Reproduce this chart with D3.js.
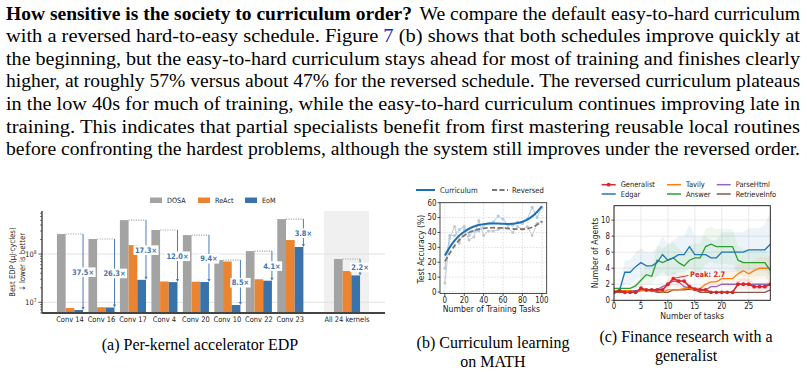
<!DOCTYPE html>
<html><head><meta charset="utf-8">
<script src="https://cdn.jsdelivr.net/npm/d3@7/dist/d3.min.js"></script>
<style>body{margin:0;background:#fff}svg{display:block}</style>
</head><body>
<svg id="c" width="807" height="372"></svg>
<script>
// ---------- paragraph ----------
const paraBold = "How sensitive is the society to curriculum order?";
const paraLines = [
  " We compare the default easy-to-hard curriculum",
  "with a reversed hard-to-easy schedule. Figure |7| (b) shows that both schedules improve quickly at",
  "the beginning, but the easy-to-hard curriculum stays ahead for most of training and finishes clearly",
  "higher, at roughly 57% versus about 47% for the reversed schedule. The reversed curriculum plateaus",
  "in the low 40s for much of training, while the easy-to-hard curriculum continues improving late in",
  "training. This indicates that partial specialists benefit from first mastering reusable local routines",
  "before confronting the hardest problems, although the system still improves under the reversed order."
];
const captions = [
  ["(a) Per-kernel accelerator EDP"],
  ["(b) Curriculum learning", "on MATH"],
  ["(c) Finance research with a", "generalist"]
];

// ---------- chart (a) ----------
const kernels = ["Conv 14","Conv 16","Conv 17","Conv 4","Conv 20","Conv 10","Conv 22","Conv 23","All 24 kernels"];
const dosa  = [2.6e8, 2.05e8, 5.05e8, 3.15e8, 2.47e8, 7.5e7, 1.15e8, 5.3e8, 7.9e7];
const react = [7.6e6, 7.9e6, 1.53e8, 2.7e7, 2.67e7, 7.0e7, 3.0e7, 1.95e8, 4.45e7];
const eom   = [6.93e6, 7.8e6, 2.92e7, 2.62e7, 2.63e7, 8.8e6, 2.8e7, 1.4e8, 3.6e7];
const speedup = ["37.5×","26.3×","17.3×","12.0×","9.4×","8.5×","4.1×","3.8×","2.2×"];
const edpSeries = ["DOSA","ReAct","EoM"];

// ---------- chart (b) ----------
const trainTasks = [0,5,10,15,20,25,30,35,40,45,50,55,60,65,70,75,80,85,90,95,100];
const currRaw = [16,38,38,42,44,38,41,41,45,46,47,51,49,45,45,47,46,49,57,50,57];
const revRaw  = [6,36,44,33,42,35,37,48,38,41,41,42,43,43,40,44,42,44,38,46,47];
const currFit = [24.5,30,34.5,38,40.5,42.5,44,45,45.6,46,46,46,45.8,45.7,45.8,46.3,47.2,48.6,50.8,53.8,57.5];
const revFit  = [20.5,26,31,35,38,40,41.3,42.2,42.8,43.1,43.2,43.1,43,42.7,42.4,42.2,42.2,42.6,43.5,45.2,47.5];
const accTicks = [0,10,20,30,40,50,60];
const taskTicksB = [0,20,40,60,80,100];

// ---------- chart (c) ----------
const tasks = [0,1,2,3,4,5,6,7,8,9,10,11,12,13,14,15,16,17,18,19,20,21,22,23,24,25,26,27,28,29];
const generalist = [1.0,1.2,1.0,1.0,1.0,1.5,1.3,1.3,1.3,1.3,2.0,2.7,2.4,2.4,1.7,1.4,1.3,1.3,1.0,1.0,1.0,1.0,1.0,2.0,2.0,2.0,1.7,1.7,1.7,2.0];
const edgar = [1.0,1.2,3.5,3.5,4.2,4.7,4.3,4.3,4.7,5.7,5.0,5.3,5.7,5.7,6.7,5.7,5.7,5.7,5.3,5.3,6.0,6.0,6.0,6.0,6.0,6.3,6.3,6.3,6.3,7.0];
const tavily = [1.2,1.2,1.2,1.2,1.0,1.3,1.2,1.2,1.2,1.0,1.3,1.3,1.3,1.5,1.5,1.3,1.5,2.0,2.3,2.3,2.7,2.7,2.7,3.3,3.7,3.3,3.7,4.0,4.0,4.0];
const answer = [1.5,1.5,1.5,1.5,1.8,2.5,3.2,3.0,5.0,4.7,5.0,5.3,4.7,4.3,5.0,5.3,5.3,6.7,7.0,6.7,6.7,6.7,6.7,5.0,4.7,4.7,4.7,4.7,4.7,3.7];
const parseHtml = [1.2,1.2,1.2,1.2,1.2,1.3,1.3,1.3,1.3,1.7,2.0,2.4,2.3,1.7,1.5,1.3,1.3,1.3,1.7,1.7,2.0,2.0,2.0,2.0,2.0,2.0,2.0,2.0,2.0,2.0];
const retrieveInfo = [1.0,1.0,1.0,1.0,1.0,1.2,1.2,1.2,1.0,1.0,1.0,1.3,1.3,1.3,1.4,1.3,1.0,1.0,1.0,1.0,1.0,1.0,1.0,1.0,1.0,1.0,1.0,1.0,1.0,1.3];
const edgarLo = [1,1,2,2,2.5,3,2.8,2.8,3,3.5,3,3.2,3.5,3.5,4,3.5,3.5,3.5,3.3,3.3,3.5,3.5,3.5,3.5,3.5,3.7,3.7,3.7,3.7,3];
const edgarHi = [1.2,1.5,5,5,6,6.5,6,6,6.5,8,7,7.5,8,8,9.5,8,8,8,7.5,7.5,8.5,8.5,8.5,8.5,8.5,9,9,9,9.5,11];
const answerLo = [1.5,1.5,1.5,1.5,1.5,1.8,2,2,3,3,3,3.3,3,2.8,3.2,3.5,3.5,4.5,4.8,4.5,4.5,4.5,4.5,3.3,3,3,3,3,3,2];
const answerHi = [1.5,1.5,1.5,1.5,2.1,3.2,4.5,4,7,6.5,7,7.3,6.5,5.8,6.8,7.1,7.1,8.9,9.2,8.9,8.9,8.9,8.9,6.7,6.4,6.4,6.4,6.4,6.4,5.4];
const genLo = [1,1,1,1,1,1.2,1.1,1.1,1.1,1.1,1.4,1.8,1.6,1.6,1.2,1.1,1,1,1,1,1,1,1,1.3,1.3,1.3,1.2,1.2,1.2,1.3];
const genHi = [1,1.4,1,1,1,1.8,1.5,1.5,1.5,1.5,2.6,3.6,3.1,3.1,2.2,1.7,1.6,1.6,1,1,1,1,1,2.7,2.7,2.7,2.2,2.2,2.2,2.7];
const tavLo = [1,1,1,1,0.9,1.1,1,1,1,0.9,1.1,1.1,1.1,1.2,1.2,1.1,1.2,1.3,1.5,1.5,1.7,1.7,1.7,2.1,2.4,2.1,2.4,2.6,2.6,2.6];
const tavHi = [1.4,1.4,1.4,1.4,1.1,1.5,1.4,1.4,1.4,1.1,1.5,1.5,1.5,1.8,1.8,1.5,1.8,2.7,3.1,3.1,3.7,3.7,3.7,4.5,5,4.5,5,5.4,5.4,5.4];
const agentTicks = [0,2,4,6,8,10];
const taskTicksC = [0,5,10,15,20,25];
const peakLabel = "Peak: 2.7";

const svg = d3.select("#c");
const SERIF = "'Liberation Serif','Times New Roman',serif";
const SANS = "'DejaVu Sans',sans-serif";
const SQUEEZE = 0.88;

// ---- paragraph ----
const pg = svg.append("g").attr("font-family", SERIF).attr("font-size", 18).attr("fill", "#000");
const base0 = 19.5, lh = 22.6, left = 6, right = 800;
pg.append("text").attr("x", left).attr("y", base0).attr("font-weight", "bold")
  .attr("textLength", 406).attr("lengthAdjust", "spacingAndGlyphs").text(paraBold);
paraLines.forEach((ln, i) => {
  const x0 = i === 0 ? 415 : left;
  const t = pg.append("text").attr("x", x0).attr("y", base0 + lh * i)
    .attr("textLength", right - x0).attr("lengthAdjust", "spacingAndGlyphs")
    .style("white-space", "pre");
  ln.split("|").forEach((part, k) => {
    t.append("tspan").attr("fill", k === 1 ? "#2020d0" : "#000").text(part);
  });
});

// ---- captions ----
const capX = [200, 493, 686];
const capY = [[349.5], [347.5, 366.5], [342, 361]];
captions.forEach((c, i) => c.forEach((s, j) =>
  svg.append("text").attr("x", capX[i]).attr("y", capY[i][j]).attr("text-anchor", "middle")
    .attr("font-family", SERIF).attr("font-size", 16).text(s)));

// ================= chart (a) =================
(function () {
  const g = svg.append("g").attr("class", "ct").attr("font-family", SANS);
  const colors = { DOSA: "#a3a3a3", ReAct: "#eb8431", EoM: "#3a72aa" };
  const xL = 42, xR = 385, yT = 211, yB = 313;
  const pos = kernels.map((k, i) => i < 8 ? i : 8.8);
  const x = d3.scaleLinear().domain([0, 8.8]).range([70, 347]);
  const y = d3.scaleLog().domain([6.0e6, 7.8e8]).range([yB, yT]);
  const bw = 8.7;
  g.append("rect").attr("x", x(8.8) - 23).attr("y", yT).attr("width", 45).attr("height", yB - yT).attr("fill", "#f0f0f0");
  [1e7, 1e8].forEach(v => g.append("line").attr("x1", xL).attr("x2", xR).attr("y1", y(v)).attr("y2", y(v))
    .attr("stroke", "#e2e2e2").attr("stroke-width", 1));
  const vals = [dosa, react, eom];
  edpSeries.forEach((s, si) => {
    g.selectAll(null).data(kernels).enter().append("rect")
      .attr("x", (d, i) => x(pos[i]) + (si - 1.5) * bw)
      .attr("width", bw)
      .attr("y", (d, i) => y(vals[si][i]))
      .attr("height", (d, i) => yB - y(vals[si][i]))
      .attr("fill", colors[s]);
  });
  kernels.forEach((k, i) => {
    const cx = x(pos[i]);
    const xr = cx + 1.5 * bw;
    const yt = y(dosa[i]), yb = y(eom[i]);
    g.append("line").attr("x1", cx - 0.5 * bw).attr("x2", xr).attr("y1", yt).attr("y2", yt)
      .attr("stroke", "#aaaaaa").attr("stroke-width", 1.2).attr("stroke-dasharray", "1.2,1.2");
    g.append("line").attr("x1", xr).attr("x2", xr).attr("y1", yt).attr("y2", yb - 1.5)
      .attr("stroke", "#4a7db5").attr("stroke-width", 1);
    g.append("path").attr("d", `M${xr - 1.6},${yb - 3}L${xr + 1.6},${yb - 3}L${xr},${yb}Z`).attr("fill", "#4a7db5");
    const ym = Math.sqrt(dosa[i] * eom[i]);
    g.append("text").attr("class", "boxed").attr("x", xr).attr("y", y(ym) + 2.7).attr("text-anchor", "middle")
      .attr("font-size", 7.6).attr("font-weight", "bold").attr("fill", "#3f74ad").text(speedup[i]);
  });
  g.append("line").attr("x1", xL).attr("x2", xL).attr("y1", yT).attr("y2", yB).attr("stroke", "#333").attr("stroke-width", 1.3);
  g.append("line").attr("x1", xL).attr("x2", xR).attr("y1", yB).attr("y2", yB).attr("stroke", "#444").attr("stroke-width", 2.2);
  const minor = [];
  [1e6, 1e7, 1e8].forEach(d => { for (let m = 2; m <= 9; m++) { const v = m * d; if (v >= 6e6 && v <= 7.8e8) minor.push(v); } });
  minor.forEach(v => g.append("line").attr("x1", xL - 2).attr("x2", xL).attr("y1", y(v)).attr("y2", y(v)).attr("stroke", "#333").attr("stroke-width", 0.6));
  [[1e7, "7"], [1e8, "8"]].forEach(([v, e]) => {
    g.append("line").attr("x1", xL - 3.5).attr("x2", xL).attr("y1", y(v)).attr("y2", y(v)).attr("stroke", "#333").attr("stroke-width", 0.8);
    const t = g.append("text").attr("x", xL - 5.5).attr("y", y(v) + 3).attr("text-anchor", "end").attr("font-size", 7.5).attr("fill", "#222");
    t.append("tspan").text("10");
    t.append("tspan").attr("font-size", 5).attr("dy", -3.5).text(e);
  });
  kernels.forEach((k, i) => g.append("text").attr("x", x(pos[i])).attr("y", 322).attr("text-anchor", "middle")
    .attr("font-size", 7.6).attr("fill", "#222").text(k));
  const yl = g.append("text").attr("transform", "translate(15,262) rotate(-90)").attr("text-anchor", "middle").attr("font-size", 7.9).attr("fill", "#222");
  yl.append("tspan").attr("x", 0).attr("y", 0).text("Best EDP (μJ·cycles)");
  yl.append("tspan").attr("x", 0).attr("y", 9.5).text("↓ lower is better");
  const lx = [150, 198, 245];
  edpSeries.forEach((s, i) => {
    g.append("rect").attr("x", lx[i]).attr("y", 197.5).attr("width", 12).attr("height", 5.5).attr("fill", colors[s]);
    g.append("text").attr("x", lx[i] + 17).attr("y", 203).attr("font-size", 7.3).attr("fill", "#222").text(s);
  });
})();

// ================= chart (b) =================
(function () {
  const g = svg.append("g").attr("class", "ct").attr("font-family", SANS);
  const L = 440, R = 546.7, T = 202.7, B = 293.5;
  const x = d3.scaleLinear().domain([-5, 105]).range([L, R]);
  const y = d3.scaleLinear().domain([-1, 60]).range([B, T]);
  taskTicksB.forEach(v => g.append("line").attr("x1", x(v)).attr("x2", x(v)).attr("y1", T).attr("y2", B)
    .attr("stroke", "#cfcfcf").attr("stroke-width", 0.7).attr("stroke-dasharray", "1.5,1.5"));
  accTicks.forEach(v => g.append("line").attr("x1", L).attr("x2", R).attr("y1", y(v)).attr("y2", y(v))
    .attr("stroke", "#cfcfcf").attr("stroke-width", 0.7).attr("stroke-dasharray", "1.5,1.5"));
  const line = arr => d3.line().x((d, i) => x(trainTasks[i])).y(d => y(d))(arr);
  g.append("path").attr("d", line(revRaw)).attr("fill", "none").attr("stroke", "#c8c8c8").attr("stroke-width", 1);
  g.selectAll(null).data(revRaw).enter().append("circle").attr("cx", (d, i) => x(trainTasks[i])).attr("cy", d => y(d)).attr("r", 1.5).attr("fill", "#c8c8c8");
  g.append("path").attr("d", line(currRaw)).attr("fill", "none").attr("stroke", "#a9cbe8").attr("stroke-width", 1);
  g.selectAll(null).data(currRaw).enter().append("circle").attr("cx", (d, i) => x(trainTasks[i])).attr("cy", d => y(d)).attr("r", 1.5).attr("fill", "#a9cbe8");
  const sline = arr => d3.line().curve(d3.curveMonotoneX).x((d, i) => x(trainTasks[i])).y(d => y(d))(arr);
  g.append("path").attr("d", sline(revFit)).attr("fill", "none").attr("stroke", "#777").attr("stroke-width", 1.8).attr("stroke-dasharray", "5,2.5");
  g.append("path").attr("d", sline(currFit)).attr("fill", "none").attr("stroke", "#1f6fb4").attr("stroke-width", 2);
  g.append("rect").attr("x", L).attr("y", T).attr("width", R - L).attr("height", B - T).attr("fill", "none").attr("stroke", "#222").attr("stroke-width", 0.8);
  accTicks.forEach(v => {
    g.append("line").attr("x1", L - 2.5).attr("x2", L).attr("y1", y(v)).attr("y2", y(v)).attr("stroke", "#222").attr("stroke-width", 0.8);
    g.append("text").attr("x", L - 3.5).attr("y", y(v) + 2.8).attr("text-anchor", "end").attr("font-size", 8).attr("fill", "#222").text(v);
  });
  taskTicksB.forEach(v => {
    g.append("line").attr("x1", x(v)).attr("x2", x(v)).attr("y1", B).attr("y2", B + 2.5).attr("stroke", "#222").attr("stroke-width", 0.8);
    g.append("text").attr("x", x(v)).attr("y", B + 9.5).attr("text-anchor", "middle").attr("font-size", 8).attr("fill", "#222").text(v);
  });
  g.append("text").attr("x", (L + R) / 2 - 2).attr("y", 311.5).attr("text-anchor", "middle").attr("font-size", 8.8).attr("fill", "#222").text("Number of Training Tasks");
  g.append("text").attr("transform", `translate(423.5,${(T + B) / 2 + 1}) rotate(-90)`).attr("text-anchor", "middle").attr("font-size", 8.8).attr("fill", "#222").text("Test Accuracy (%)");
  g.append("line").attr("x1", 416).attr("x2", 435).attr("y1", 190).attr("y2", 190).attr("stroke", "#1f6fb4").attr("stroke-width", 2);
  g.append("text").attr("x", 440).attr("y", 192.7).attr("font-size", 7.8).attr("fill", "#222").text("Curriculum");
  g.append("line").attr("x1", 492).attr("x2", 508).attr("y1", 190).attr("y2", 190).attr("stroke", "#777").attr("stroke-width", 1.8).attr("stroke-dasharray", "5,2.5");
  g.append("text").attr("x", 512).attr("y", 192.7).attr("font-size", 7.8).attr("fill", "#222").text("Reversed");
})();

// ================= chart (c) =================
(function () {
  const g = svg.append("g").attr("class", "ct").attr("font-family", SANS);
  const L = 614, R = 770.3, T = 205.7, B = 300.3;
  const x = d3.scaleLinear().domain([0, 29]).range([L, R]);
  const y = d3.scaleLinear().domain([0, 11.8]).range([B, T]);
  const defs = svg.append("defs");
  defs.append("clipPath").attr("id", "clipc").append("rect").attr("x", L).attr("y", T).attr("width", R - L).attr("height", B - T);
  taskTicksC.forEach(v => g.append("line").attr("x1", x(v)).attr("x2", x(v)).attr("y1", T).attr("y2", B).attr("stroke", "#e6e6e6").attr("stroke-width", 0.8));
  agentTicks.forEach(v => g.append("line").attr("x1", L).attr("x2", R).attr("y1", y(v)).attr("y2", y(v)).attr("stroke", "#e6e6e6").attr("stroke-width", 0.8));
  const pg2 = g.append("g").attr("clip-path", "url(#clipc)");
  const area = (lo, hi) => d3.area().x((d, i) => x(tasks[i])).y0((d, i) => y(lo[i])).y1((d, i) => y(hi[i]))(tasks);
  const bands = [[edgarLo, edgarHi, "#1f77b4"], [answerLo, answerHi, "#2ca02c"], [tavLo, tavHi, "#ff7f0e"], [genLo, genHi, "#d62728"]];
  bands.forEach(([lo, hi, c]) => pg2.append("path").attr("d", area(lo, hi)).attr("fill", c).attr("opacity", 0.08));
  const line = arr => d3.line().x((d, i) => x(tasks[i])).y(d => y(d))(arr);
  const series = [
    [retrieveInfo, "#8c564b"], [parseHtml, "#9467bd"], [tavily, "#ff7f0e"], [answer, "#2ca02c"], [edgar, "#1f77b4"]
  ];
  series.forEach(([arr, c]) => pg2.append("path").attr("d", line(arr)).attr("fill", "none").attr("stroke", c).attr("stroke-width", 1.3));
  pg2.append("path").attr("d", line(generalist)).attr("fill", "none").attr("stroke", "#d62728").attr("stroke-width", 1.6);
  pg2.selectAll(null).data(generalist).enter().append("circle").attr("cx", (d, i) => x(tasks[i])).attr("cy", d => y(d)).attr("r", 1.9).attr("fill", "#d62728");
  const pi = generalist.indexOf(d3.max(generalist));
  g.append("line").attr("x1", x(tasks[pi]) - 1).attr("y1", y(generalist[pi])).attr("x2", 688.5).attr("y2", 275.5).attr("stroke", "#d62728").attr("stroke-width", 0.9);
  g.append("text").attr("x", 690).attr("y", 277).attr("font-size", 7.6).attr("font-weight", "bold").attr("fill", "#d62728").text(peakLabel);
  g.append("rect").attr("x", L).attr("y", T).attr("width", R - L).attr("height", B - T).attr("fill", "none").attr("stroke", "#111").attr("stroke-width", 0.9);
  agentTicks.forEach(v => {
    g.append("line").attr("x1", L - 2.5).attr("x2", L).attr("y1", y(v)).attr("y2", y(v)).attr("stroke", "#222").attr("stroke-width", 0.8);
    g.append("text").attr("x", L - 4).attr("y", y(v) + 2.8).attr("text-anchor", "end").attr("font-size", 8).attr("fill", "#222").text(v);
  });
  taskTicksC.forEach(v => {
    g.append("line").attr("x1", x(v)).attr("x2", x(v)).attr("y1", B).attr("y2", B + 2.5).attr("stroke", "#222").attr("stroke-width", 0.8);
    g.append("text").attr("x", x(v)).attr("y", B + 9).attr("text-anchor", "middle").attr("font-size", 8).attr("fill", "#222").text(v);
  });
  g.append("text").attr("x", (L + R) / 2).attr("y", 318.5).attr("text-anchor", "middle").attr("font-size", 8.8).attr("fill", "#222").text("Number of tasks");
  g.append("text").attr("transform", `translate(598,${(T + B) / 2}) rotate(-90)`).attr("text-anchor", "middle").attr("font-size", 8.8).attr("fill", "#222").text("Number of Agents");
  const leg = [
    ["Generalist", "#d62728", 601.7, 184.7, true], ["Tavily", "#ff7f0e", 667, 184.7], ["ParseHtml", "#9467bd", 716.7, 184.7],
    ["Edgar", "#1f77b4", 601.7, 194], ["Answer", "#2ca02c", 667, 194], ["RetrieveInfo", "#8c564b", 716.7, 194]
  ];
  leg.forEach(([name, c, lx, ly, mk]) => {
    g.append("line").attr("x1", lx).attr("x2", lx + 14).attr("y1", ly).attr("y2", ly).attr("stroke", c).attr("stroke-width", 1.5);
    if (mk) g.append("circle").attr("cx", lx + 7).attr("cy", ly).attr("r", 1.9).attr("fill", c);
    g.append("text").attr("x", lx + 19).attr("y", ly + 2.7).attr("font-size", 7.6).attr("fill", "#222").text(name);
  });
})();

// horizontally condense chart text to match the reference's narrow glyphs
svg.selectAll(".ct text").each(function () {
  const w = this.getComputedTextLength();
  if (w > 0) d3.select(this).attr("textLength", w * SQUEEZE).attr("lengthAdjust", "spacingAndGlyphs");
});
// white boxes behind the speed-up labels
svg.selectAll("text.boxed").each(function () {
  const bb = this.getBBox();
  d3.select(this.parentNode).insert("rect", () => this)
    .attr("x", bb.x - 1.5).attr("y", bb.y - 0.3).attr("width", bb.width + 3).attr("height", bb.height + 0.6).attr("fill", "#fff");
});
</script>
</body></html>
